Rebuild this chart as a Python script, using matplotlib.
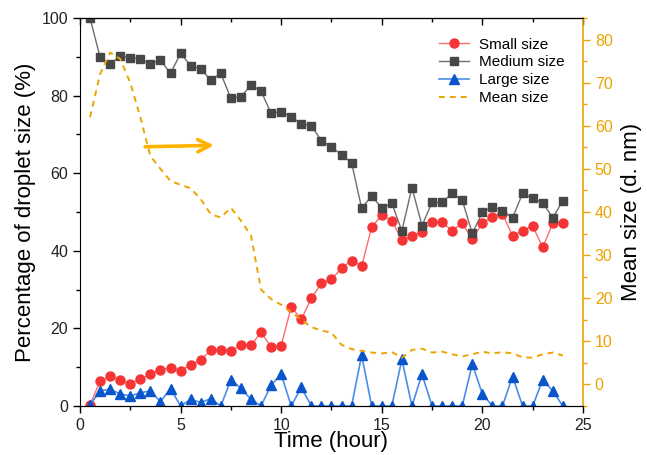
import numpy as np
import matplotlib
matplotlib.use("Agg")
import matplotlib.pyplot as plt
from matplotlib.ticker import MultipleLocator, NullFormatter

plt.rcParams['font.family'] = ['Liberation Sans', 'DejaVu Sans']

# zaman (saat), 0.5 saatlik adimlar
zaman = [0.5, 1.0, 1.5, 2.0, 2.5, 3.0, 3.5, 4.0, 4.5, 5.0, 5.5, 6.0, 6.5, 7.0, 7.5, 8.0,
         8.5, 9.0, 9.5, 10.0, 10.5, 11.0, 11.5, 12.0, 12.5, 13.0, 13.5, 14.0, 14.5, 15.0,
         15.5, 16.0, 16.5, 17.0, 17.5, 18.0, 18.5, 19.0, 19.5, 20.0, 20.5, 21.0, 21.5,
         22.0, 22.5, 23.0, 23.5, 24.0]

kucuk = [0.3, 6.4, 7.7, 6.7, 5.7, 7.0, 8.2, 9.4, 9.9, 9.1, 10.6, 11.8, 14.4, 14.4, 14.1, 15.8,
         15.6, 19.0, 15.2, 15.5, 25.6, 22.3, 27.8, 31.6, 32.7, 35.5, 37.5, 36.0, 46.1, 49.2,
         47.8, 42.8, 43.8, 44.9, 47.5, 47.3, 45.2, 47.1, 43.0, 47.2, 48.8, 49.6, 43.8,
         45.2, 46.4, 40.9, 47.1, 47.1]

orta = [100.0, 89.9, 88.1, 90.2, 89.8, 89.5, 88.1, 89.2, 85.7, 90.9, 87.7, 86.9, 84.0, 85.7, 79.3, 79.7,
        82.7, 81.2, 75.4, 75.9, 74.6, 72.7, 72.2, 68.4, 66.8, 64.7, 62.7, 51.0, 54.1, 51.0,
        52.3, 45.1, 56.3, 46.5, 52.5, 52.5, 54.8, 53.1, 44.5, 49.9, 51.4, 50.3, 48.5,
        54.8, 53.5, 52.4, 48.5, 52.9]

buyuk = [0.3, 3.9, 4.3, 3.1, 2.6, 3.4, 3.9, 1.1, 4.5, 0.0, 1.7, 0.9, 1.9, 0.0, 6.7, 4.6,
         1.7, 0.0, 5.4, 8.2, 0.0, 4.8, 0.0, 0.0, 0.0, 0.0, 0.0, 13.1, 0.0, 0.0,
         0.0, 12.0, 0.0, 8.2, 0.0, 0.0, 0.0, 0.0, 10.8, 3.1, 0.0, 0.0, 7.6,
         0.0, 0.0, 6.7, 3.9, 0.0]

ortalama = [62.0, 72.0, 77.0, 75.5, 70.0, 62.0, 53.0, 50.0, 47.2, 46.3, 45.5, 43.0, 39.5, 38.7, 41.0, 38.0,
            34.5, 22.0, 19.8, 18.5, 16.8, 15.0, 13.3, 12.5, 12.0, 9.2, 8.2, 7.8, 7.4, 7.2,
            7.5, 6.2, 8.0, 8.3, 7.4, 7.6, 7.0, 6.5, 7.0, 7.6, 7.2, 7.5, 7.2,
            6.3, 6.2, 7.0, 7.4, 6.7]

turuncu = '#EBA400'

fig = plt.figure(figsize=(6.47, 4.55), dpi=100)
ax = fig.add_axes([0.1236, 0.1077, 0.7774, 0.8527])
ax2 = ax.twinx()

# sol eksen serileri
ax.plot(zaman, kucuk, color='#FF6B6B', lw=1.0, marker='o', ms=6.5,
        mfc='#F53535', mec='#F53535', label='Small size', zorder=3)
ax.plot(zaman, orta, color='#6E6E6E', lw=1.0, marker='s', ms=6,
        mfc='#474747', mec='#474747', label='Medium size', zorder=3)
ax.plot(zaman, buyuk, color='#4A8EE8', lw=1.2, marker='^', ms=7,
        mfc='#0A55CC', mec='#0A55CC', label='Large size', zorder=3)

# sag eksen: ortalama boyut
ax2.plot(zaman, ortalama, color=turuncu, lw=1.4, ls=(0, (3, 2.6)), label='Mean size')

ax.set_xlim(0, 25)
ax.set_ylim(0, 100)
ax2.set_ylim(-5, 85)

ax.xaxis.set_major_locator(MultipleLocator(5))
ax.xaxis.set_minor_locator(MultipleLocator(2.5))
ax.yaxis.set_major_locator(MultipleLocator(20))
ax.yaxis.set_minor_locator(MultipleLocator(10))
ax2.yaxis.set_major_locator(MultipleLocator(10))
ax2.yaxis.set_minor_locator(MultipleLocator(5))

ax.tick_params(axis='both', which='major', length=5, width=1, labelsize=11.5,
               labelcolor='#222222', direction='out')
ax.tick_params(axis='both', which='minor', length=3, width=1, direction='out')

# ust eksen: iceri bakan tikler, etiket yok
ust = ax.secondary_xaxis('top')
ust.xaxis.set_major_locator(MultipleLocator(5))
ust.xaxis.set_minor_locator(MultipleLocator(2.5))
ust.xaxis.set_major_formatter(NullFormatter())
ust.tick_params(which='major', direction='in', length=5, width=1)
ust.tick_params(which='minor', direction='in', length=3, width=1)

ax2.tick_params(axis='y', which='major', length=5, width=1, colors=turuncu, labelsize=11.5)
ax2.tick_params(axis='y', which='minor', length=3, width=1, colors=turuncu)
ax2.spines['right'].set_color(turuncu)
ax2.spines['right'].set_linewidth(1.2)
ax.spines['right'].set_visible(False)
ax2.spines['left'].set_visible(False)

ax.set_xlabel('Time (hour)', fontsize=16, labelpad=-1)
ax.set_ylabel('Percentage of droplet size (%)', fontsize=16, labelpad=4)
ax2.set_ylabel('Mean size (d. nm)', fontsize=16, labelpad=6)

# ok isareti (ortalama boyut sag eksende)
ax.annotate('', xy=(6.8, 67.2), xytext=(3.1, 66.8),
            arrowprops=dict(arrowstyle='->', color='#FFB300', lw=2.6,
                            mutation_scale=22, capstyle='round'))

h1, l1 = ax.get_legend_handles_labels()
h2, l2 = ax2.get_legend_handles_labels()
ax2.legend(h1 + h2, l1 + l2, loc='upper right', bbox_to_anchor=(0.99, 0.985),
           frameon=False, fontsize=11, handlelength=2.0, labelspacing=0.25,
           handletextpad=0.6)

plt.savefig('out.png', dpi=100)
